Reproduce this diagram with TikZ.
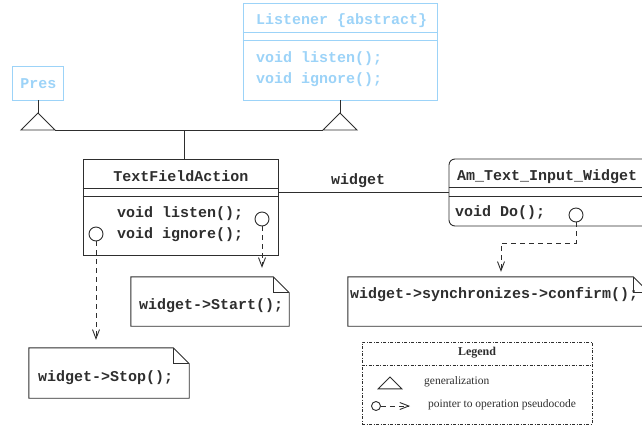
\documentclass[tikz,border=0pt]{standalone}
\usepackage{fontspec}
\setmainfont{Liberation Serif}
\setmonofont{Liberation Mono}
\usetikzlibrary{arrows.meta,calc}
\definecolor{ink}{HTML}{2E2E2E}
\definecolor{skyline}{HTML}{9CD3F8}
\tikzset{
  code/.style={font=\ttfamily\bfseries\fontsize{15}{21}\selectfont,text=ink,inner sep=0pt},
  codeleft/.style={code,anchor=west,align=left},
  legendtext/.style={font=\fontsize{11.5}{13}\selectfont,text=ink,anchor=west,inner sep=0pt},
  line/.style={draw=ink,line width=0.9pt},
  classbox/.style={line,fill=white,inner sep=0pt},
  abstractbox/.style={classbox,draw=skyline},
  notebox/.style={inner sep=0pt},
  opcircle/.style={circle,line,fill=white,inner sep=0pt,minimum size=14pt},
  ptr/.style={line,dash pattern=on 5pt off 4pt,-{Straight Barb[length=9pt,width=7pt]}},
  legendline/.style={draw=ink,line width=0.7pt,dash pattern=on 3pt off 1.5pt on 1pt off 1.5pt},
  legendbox/.style={legendline,inner sep=0pt},
  gentri/.pic={\draw[line,fill=white] (0,0) -- (-17,17) -- (17,17) -- cycle;}
}
% note frame with a folded corner
\newcommand{\dognote}[1]{%
  \draw[line] (#1.north west) -- ([xshift=-16pt]#1.north east) -- ([yshift=-16pt]#1.north east)
    -- (#1.south east) -- (#1.south west) -- cycle;
  \draw[line] ([xshift=-16pt]#1.north east) |- ([yshift=-16pt]#1.north east);}

\begin{document}
\begin{tikzpicture}[x=1pt,y=-1pt]
\useasboundingbox (0,0) rectangle (642,429);
\clip (0,0) rectangle (642,429);

% superclasses
\node[abstractbox,minimum width=51pt,minimum height=34pt] (pres) at (38,83) {};
\node[code,text=skyline] (pres-name) at (38.5,84) {Pres};
\node[abstractbox,minimum width=194pt,minimum height=97pt] (listener) at (340,51.5) {};
\draw[line,draw=skyline] ([yshift=-30pt]listener.north west) -- ([yshift=-30pt]listener.north east);
\draw[line,draw=skyline] ([yshift=-38pt]listener.north west) -- ([yshift=-38pt]listener.north east);
\node[codeleft,text=skyline] (listener-name) at (256,21) {Listener \{abstract\}};
\node[codeleft,text=skyline] (listener-ops) at (256,69.5) {void listen();\\void ignore();};

% generalization
\coordinate (pres-tip) at (38,113);
\coordinate (listener-tip) at (340,113);
\coordinate (gen-left) at (55,130);
\coordinate (gen-right) at (323,130);
\coordinate (join) at (184,130);
\draw[line] (pres) -- (pres-tip);
\draw[line] (listener) -- (listener-tip);
\draw[line] (gen-left) -- (gen-right);
\pic at (pres-tip) {gentri};
\pic at (listener-tip) {gentri};

% TextFieldAction
\node[classbox,minimum width=195pt,minimum height=96pt] (tfa) at (180.5,207) {};
\draw[line] (join) -- (join |- tfa.north);
\draw[line] ([yshift=-30pt]tfa.north west) -- ([yshift=-30pt]tfa.north east);
\draw[line] ([yshift=-38pt]tfa.north west) -- ([yshift=-38pt]tfa.north east);
\node[code] (tfa-name) at (181,176) {TextFieldAction};
\node[codeleft] (tfa-ops) at (117,224.5) {void listen();\\void ignore();};
\node[opcircle] (listen-op) at (262,219) {};
\node[opcircle] (ignore-op) at (96,234) {};

% Am_Text_Input_Widget
\node[classbox,rounded corners=6pt,minimum width=205pt,minimum height=67pt] (widget) at (551.5,192.5) {};
\draw[line] ([yshift=-29pt]widget.north west) -- ([yshift=-29pt]widget.north east);
\draw[line] ([yshift=-38pt]widget.north west) -- ([yshift=-38pt]widget.north east);
\node[codeleft] (widget-name) at (457,177) {Am\_Text\_Input\_Widget};
\node[codeleft] (widget-ops) at (455,213) {void Do();};
\node[opcircle] (do-op) at (576,215) {};

% association
\coordinate (assoc) at (360,192);
\draw[line] (tfa.east |- assoc) -- (widget.west |- assoc);
\node[code] (assoc-name) at (358,181) {widget};

% pseudocode notes
\node[notebox,minimum width=158pt,minimum height=49pt] (start) at (210,301.5) {};
\dognote{start}
\node[codeleft] (start-text) at (139,306) {widget->Start();};
\node[notebox,minimum width=160pt,minimum height=50pt] (stop) at (109,373) {};
\dognote{stop}
\node[codeleft] (stop-text) at (38,378) {widget->Stop();};
\node[notebox,minimum width=301pt,minimum height=49pt] (sync) at (498.5,301.5) {};
\dognote{sync}
\node[codeleft] (sync-text) at (350,295) {widget->synchronizes->confirm();};

\draw[ptr] (listen-op) -- ([yshift=9pt]listen-op |- start.north);
\draw[ptr] (ignore-op) -- ([yshift=8pt]ignore-op |- stop.north);
\coordinate (do-bend) at (501,243);
\draw[ptr] (do-op) |- (do-bend) -- ([yshift=5pt]do-bend |- sync.north);

% legend
\node[legendbox,minimum width=230pt,minimum height=82pt] (legend) at (477,383) {};
\node[font=\bfseries\fontsize{12}{14}\selectfont,text=ink] (legend-title) at (477,353) {Legend};
\draw[legendline] ([yshift=-24pt]legend.north west) -- ([yshift=-24pt]legend.north east);
\pic[scale=0.7] at (390,377) {gentri};
\node[legendtext] (legend-gen) at (424,382) {generalization};
\node[opcircle,minimum size=9pt] (legend-op) at (376,406) {};
\coordinate (legend-tip) at (410,406);
\draw[ptr] (legend-op) -- (legend-tip);
\node[legendtext] (legend-ptr) at (428,405) {pointer to operation pseudocode};
\end{tikzpicture}
\end{document}
